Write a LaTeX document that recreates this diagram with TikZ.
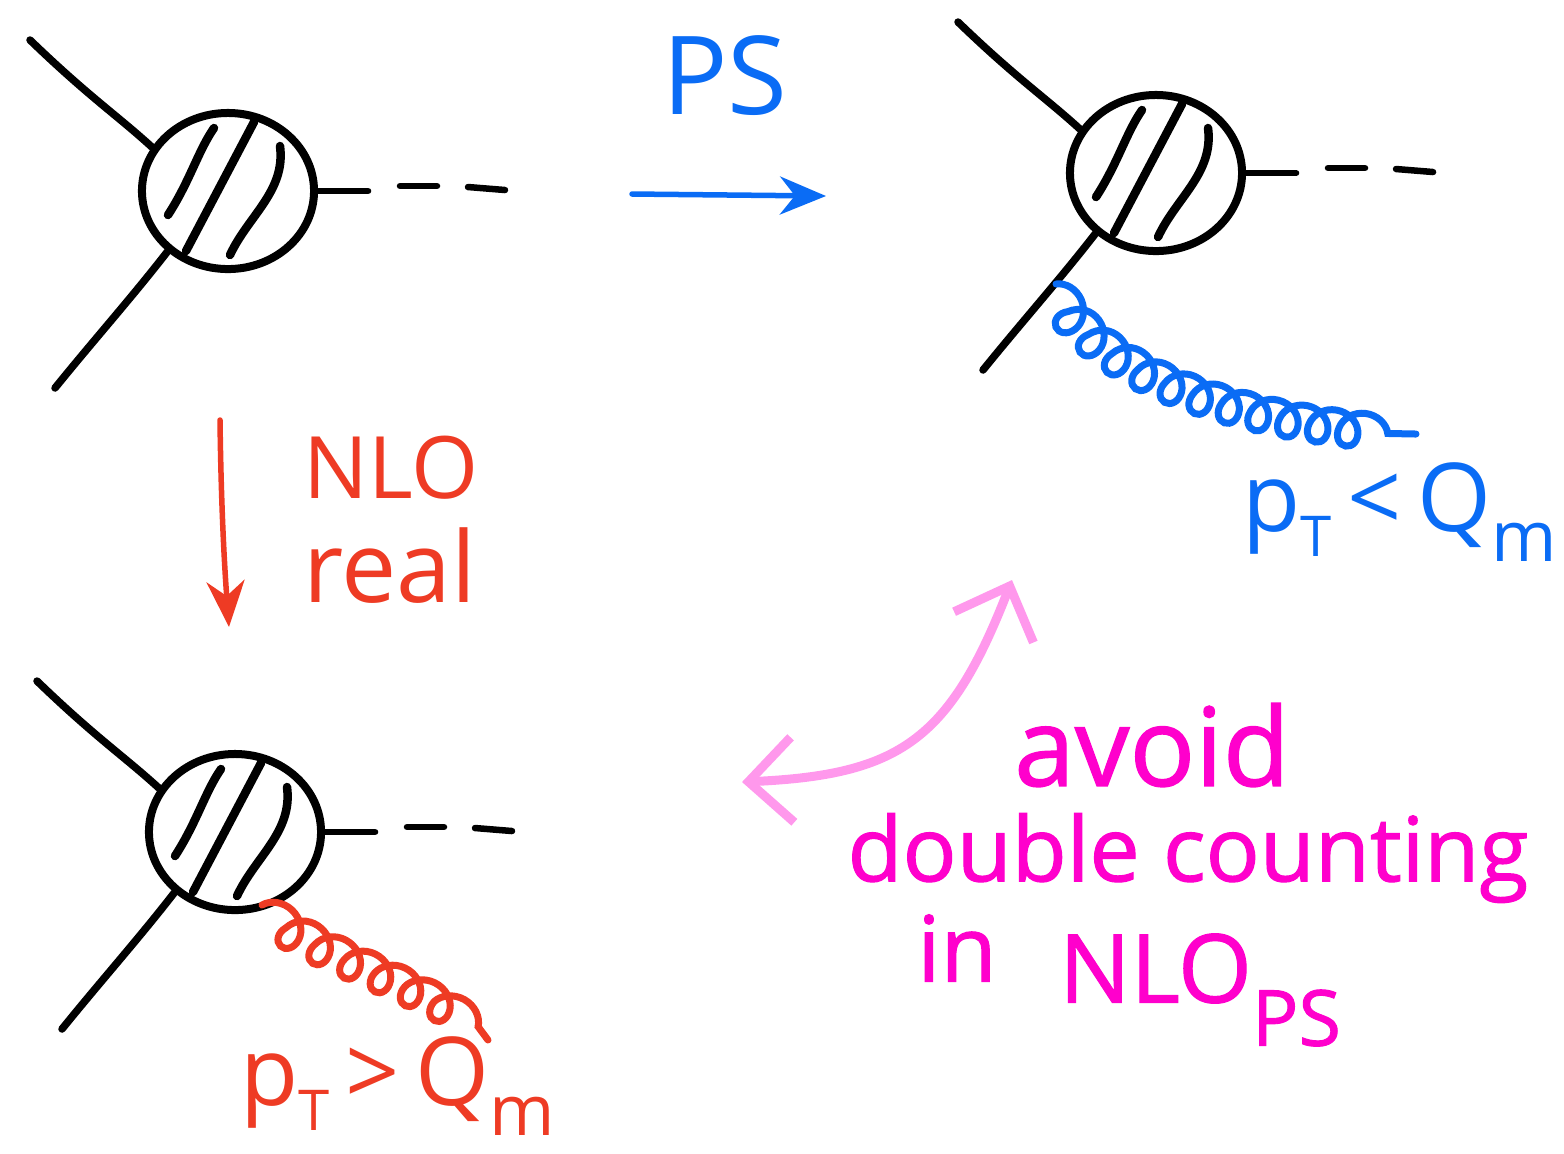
\documentclass[tikz,border=0pt]{standalone}
\usepackage{fontspec}
\setmainfont{Open Sans}
\newfontfamily\pinkfont[FakeBold=1.2]{Open Sans}
\usepackage{xcolor}
\usepackage{tikz}
\usetikzlibrary{arrows.meta,shapes.geometric,decorations.pathmorphing,calc}
\definecolor{psblue}{HTML}{0A6CF5}
\definecolor{nlored}{HTML}{EE3B24}
\definecolor{avoidpink}{HTML}{FF00CC}
\definecolor{softpink}{HTML}{FF98EC}

\begin{document}
\begin{tikzpicture}[x=0.01cm,y=-0.01cm,line cap=round,
  blob/.style={draw,ellipse,line width=0.8mm,minimum width=1.72cm,minimum height=1.56cm,inner sep=0pt},
  leg/.style={line width=0.75mm},
  hatch/.style={line width=0.85mm},
  dashline/.style={line width=0.65mm},
  gluon/.style={line width=0.7mm,decorate,decoration={coil,aspect=1,amplitude=1.7mm,segment length=#1}},
  arr/.style={-{Stealth[length=4.6mm,width=3.8mm]},line width=0.55mm},
  twoway/.style={{Straight Barb[length=4.4mm,width=8.5mm]}-{Straight Barb[length=4.4mm,width=8.5mm]},line width=0.9mm},
  handlabel/.style={font=\fontsize{#1}{#1}\selectfont,inner sep=0pt},
  pinklabel/.style={font=\pinkfont\fontsize{#1}{#1}\selectfont,inner sep=0pt,avoidpink}]
  \useasboundingbox (0,0) rectangle (1564,1153);
  % three blobs: the same vertex, moved
  \foreach \n/\x/\y in {A/228/191,B/1156/173,C/235/832}{
    \node[blob] (blob\n) at (\x,\y) {};
    \coordinate (in1\n) at ($(\x,\y)+(-198,-151)$);
    \coordinate (in2\n) at ($(\x,\y)+(-173,197)$);
    \draw[leg] (in1\n) .. controls ($(\x,\y)+(-140,-95)$) and ($(\x,\y)+(-110,-75)$) .. (blob\n.150);
    \draw[leg] (in2\n) .. controls ($(\x,\y)+(-135,150)$) and ($(\x,\y)+(-95,105)$) .. (blob\n.225);
    \draw[hatch] ($(\x,\y)+(-60,24)$) .. controls ($(\x,\y)+(-38,-10)$) and ($(\x,\y)+(-30,-40)$) .. ($(\x,\y)+(-14,-63)$);
    \draw[hatch] ($(\x,\y)+(-42,60)$) -- ($(\x,\y)+(26,-69)$);
    \draw[hatch] ($(\x,\y)+(2,64)$) .. controls ($(\x,\y)+(20,25)$) and ($(\x,\y)+(58,0)$) .. ($(\x,\y)+(52,-45)$);
    \draw[dashline] (blob\n.east) -- ++(50,0);
    \draw[dashline] ($(\x,\y)+(172,-5)$) -- ++(37,0);
    \draw[dashline] ($(\x,\y)+(240,-4)$) -- ++(37,3);
  }
  % gluons
  \coordinate (gluBa) at (1056,284);
  \coordinate (gluBb) at (1416,434);
  \coordinate (gluCa) at (262,905);
  \coordinate (gluCb) at (488,1040);
  \draw[psblue,gluon=3cm*0.1] (gluBa) .. controls (1095,375) and (1240,425) .. (gluBb);
  \draw[nlored,gluon=3.3cm*0.1] (gluCa) .. controls (320,960) and (430,985) .. (gluCb);
  % arrows
  \coordinate (psL) at (632,194);
  \coordinate (psR) at (826,196);
  \coordinate (realT) at (220,420);
  \coordinate (realB) at (229,627);
  \coordinate (dcL) at (742,782);
  \coordinate (dcR) at (1012,580);
  \draw[arr,psblue] (psL) -- (psR);
  \draw[arr,nlored] (realT) .. controls (221,500) and (224,560) .. (realB);
  \draw[twoway,softpink] (dcL) .. controls (900,775) and (950,740) .. (dcR);
  % labels
  \node[handlabel=31pt,psblue] (psText) at (725,76) {PS};
  \node[handlabel=24.5pt,nlored] (nloText) at (391,468) {NLO};
  \node[handlabel=28pt,nlored] (realText) at (390,566) {real};
  \node[handlabel=27pt,psblue] (ptLess) at (1400,512) {p\raisebox{-.5ex}{\fontsize{16}{16}\selectfont T}\,<\,Q\raisebox{-.6ex}{\fontsize{20}{20}\selectfont m}};
  \node[handlabel=27pt,nlored] (ptMore) at (398,1086) {p\raisebox{-.5ex}{\fontsize{16}{16}\selectfont T}\,>\,Q\raisebox{-.6ex}{\fontsize{20}{20}\selectfont m}};
  \node[pinklabel=31pt] (avoidText) at (1152,745) {avoid};
  \node[pinklabel=25.5pt] (doubleText) at (1188,858) {double counting};
  \node[pinklabel=26pt] (inText) at (957,948) {in};
  \node[pinklabel=27pt] (nloPs) at (1200,990) {NLO\raisebox{-.85ex}{\fontsize{22}{22}\selectfont PS}};
\end{tikzpicture}
\end{document}
